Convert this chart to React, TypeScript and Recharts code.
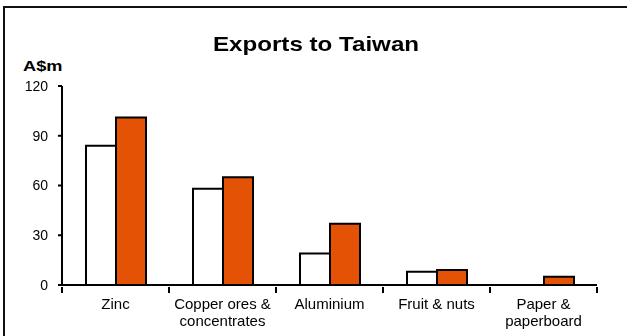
import { BarChart, Bar, XAxis, YAxis } from 'recharts';

const CATEGORIES: string[][] = [
  ['Zinc'],
  ['Copper ores &', 'concentrates'],
  ['Aluminium'],
  ['Fruit & nuts'],
  ['Paper &', 'paperboard'],
];
const PREV_YEAR = [84, 58, 19, 8, 0];
const THIS_YEAR = [101, 65, 37, 9, 5];
const Y_TICKS = [0, 30, 60, 90, 120];

const FONT = '"Liberation Sans", Arial, sans-serif';

const data = CATEGORIES.map((lines, i) => ({
  name: lines.join(' '),
  prev: PREV_YEAR[i],
  curr: THIS_YEAR[i],
}));

function CategoryTick(props: any) {
  const { x, y, payload, index } = props;
  const lines = CATEGORIES[index] ?? [payload.value];
  const half = payload.offset ?? 0;
  const last = index === CATEGORIES.length - 1;
  return (
    <g>
      <line x1={x - half} x2={x - half} y1={y - 8} y2={y - 2} stroke="#000" strokeWidth={2} />
      {last && (
        <line x1={x + half} x2={x + half} y1={y - 8} y2={y - 2} stroke="#000" strokeWidth={2} />
      )}
      <text x={x} y={y + 14} textAnchor="middle" fontSize={15} fill="#000" fontFamily={FONT}>
        {lines.map((l: string, i: number) => (
          <tspan key={i} x={x} dy={i === 0 ? 0 : 17}>{l}</tspan>
        ))}
      </text>
    </g>
  );
}

export default function App() {
  return (
    <div style={{ position: 'fixed', left: 0, top: 0, width: 627, height: 336, background: '#fff', fontFamily: FONT }}>
      <div style={{ position: 'absolute', left: 3, top: 6, right: -4, bottom: -4, borderTop: '2px solid #111', borderLeft: '2px solid #111' }} />
      <div style={{ position: 'absolute', left: 0, width: 632, top: 32, textAlign: 'center', fontSize: 21, fontWeight: 'bold', transform: 'scaleX(1.15)', transformOrigin: '316px 0' }}>
        Exports to Taiwan
      </div>
      <div style={{ position: 'absolute', left: 23, top: 58, fontSize: 14, fontWeight: 'bold', transform: 'scaleX(1.3)', transformOrigin: '0 0' }}>A$m</div>
      <BarChart
        width={627}
        height={336}
        data={data}
        margin={{ top: 86, right: 30, left: 22, bottom: 0 }}
        barCategoryGap={23}
        barGap={0}
      >
        <YAxis
          width={40}
          domain={[0, 120]}
          ticks={Y_TICKS}
          interval={0}
          axisLine={{ stroke: '#000', strokeWidth: 2 }}
          tickLine={{ stroke: '#000', strokeWidth: 2 }}
          tickSize={4}
          tickMargin={10}
          tick={{ fill: '#000', fontSize: 14, fontFamily: FONT }}
        />
        <XAxis
          dataKey="name"
          height={51}
          interval={0}
          axisLine={{ stroke: '#000', strokeWidth: 2 }}
          tickLine={false}
          tickSize={8}
          tick={<CategoryTick />}
        />
        <Bar dataKey="prev" fill="#fff" stroke="#000" strokeWidth={2} barSize={30} isAnimationActive={false} />
        <Bar dataKey="curr" fill="#E35205" stroke="#000" strokeWidth={2} barSize={30} isAnimationActive={false} />
      </BarChart>
    </div>
  );
}
